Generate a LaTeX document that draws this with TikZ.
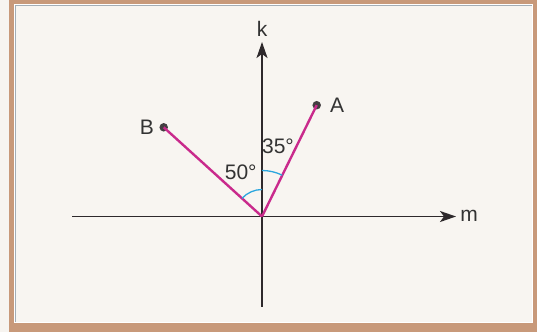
\documentclass[tikz,border=0pt]{standalone}
\usepackage{fontspec}
\setmainfont{Liberation Sans}
\usetikzlibrary{arrows.meta}
\definecolor{frametan}{HTML}{C8997A}
\definecolor{innerbg}{HTML}{F8F5F1}
\definecolor{outerbg}{HTML}{F7F4F0}
\definecolor{rimgrey}{HTML}{A3ADB6}
\definecolor{axisdark}{HTML}{2E292C}
\definecolor{segmag}{HTML}{C92A8C}
\definecolor{arcblue}{HTML}{2BA6DE}
\definecolor{txt}{HTML}{333333}
\tikzset{
  axisline/.style={draw=axisdark, line width=1.6pt, -{Stealth[length=16pt,width=11pt,inset=4pt]}},
  plainaxis/.style={draw=axisdark, line width=1.6pt},
  segline/.style={draw=segmag, line width=2.4pt},
  anglearc/.style={draw=arcblue, line width=1.3pt},
  ptdot/.style={circle, fill=axisdark!90!white, inner sep=0pt, minimum size=8.5pt},
  lbl/.style={text=txt, font=\fontsize{21}{21}\selectfont, inner sep=0pt}
}
\begin{document}
\begin{tikzpicture}[x=1pt,y=-1pt]
\useasboundingbox (0,0) rectangle (537,332);
% frame
\fill[outerbg] (0,0) rectangle (537,332);
\fill[frametan] (9,0) rectangle (537,332);
\fill[white] (14,4) rectangle (533,323);
\fill[innerbg] (16,6) rectangle (532,322);
\draw[rimgrey, line width=1.2pt] (15.6,322) -- (15.6,5.6) -- (532,5.6);
% axes
\coordinate (O) at (262,216.5);
\coordinate (kb) at (262,306.5);
\coordinate (kt) at (262,42);
\coordinate (ml) at (72,216.5);
\coordinate (mr) at (456,216.5);
\draw[plainaxis] (O) -- (kb);
\draw[axisline] (O) -- (kt);
\draw[plainaxis] (ml) -- (O);
\draw[axisline] (O) -- (mr);
\node[lbl] (k) at (262,29) {k};
\node[lbl] (m) at (469,216) {m};
% points
\node[ptdot] (A) at (316.7,105.2) {};
\node[ptdot] (B) at (163.7,127.3) {};
\node[lbl] (Alab) at (337,105.5) {A};
\node[lbl] (Blab) at (147,127.5) {B};
% segments
\draw[segline] (O) -- (A.center);
\draw[segline] (O) -- (B.center);
% angle arcs
\draw[anglearc] ([shift={(-90:46)}]O) arc[start angle=-90, end angle=-63.9, radius=46];
\draw[anglearc] ([shift={(-90:27)}]O) arc[start angle=-90, end angle=-137.6, radius=27];
\node[lbl] (a35) at (278,146.7) {35°};
\node[lbl] (a50) at (240.7,172.3) {50°};
\end{tikzpicture}
\end{document}
